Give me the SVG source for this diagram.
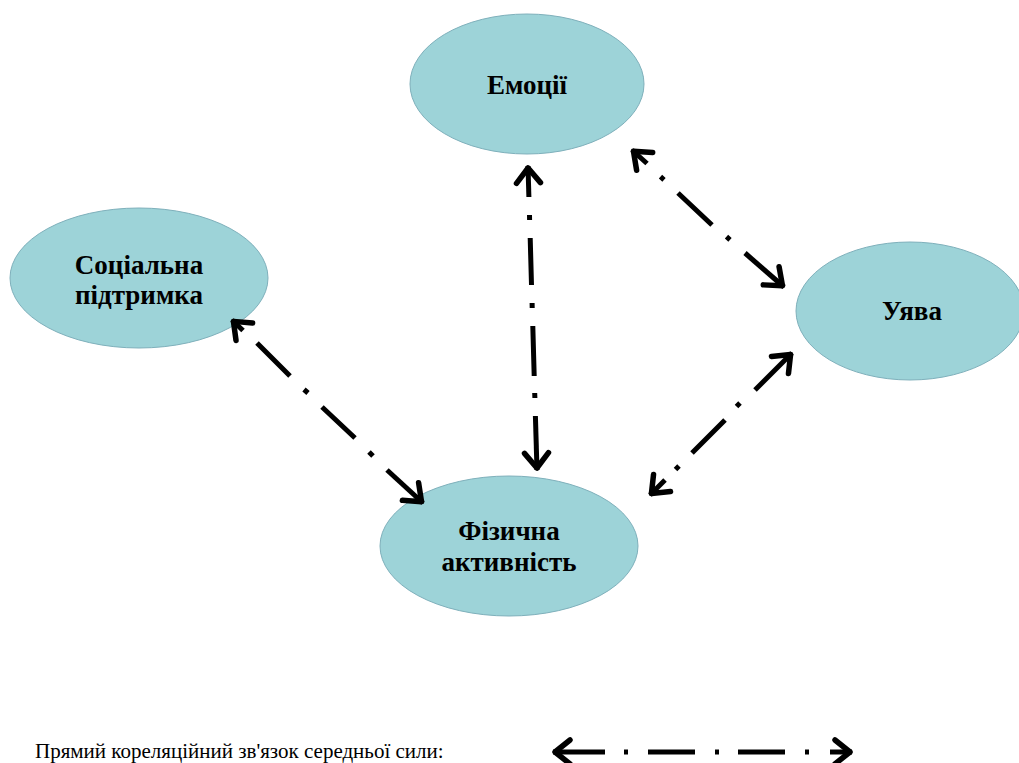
<svg xmlns="http://www.w3.org/2000/svg" width="1019" height="763" viewBox="0 0 1019 763">
<style>
.node ellipse{fill:#9dd3d8;stroke:#7fb0bb;stroke-width:1}
.node text{font-family:"Liberation Serif","Times New Roman",serif;font-weight:bold;font-size:27px;fill:#000;text-anchor:middle}
.c{stroke:#000;stroke-width:5;fill:none;stroke-linecap:butt}
.h{marker-end:url(#head)}
.legend{font-family:"Liberation Serif","Times New Roman",serif;font-size:21px;fill:#000}
</style>
<defs>
<marker id="head" markerUnits="userSpaceOnUse" viewBox="-22 -16 24 32" markerWidth="24" markerHeight="32" refX="0" refY="0" orient="auto" overflow="visible">
<path d="M -17 -12 L -2 0 L -17 12" fill="none" stroke="#000" stroke-width="5.5" stroke-linejoin="round" stroke-linecap="round"/>
</marker>
</defs>
<rect width="1019" height="763" fill="#fff"/>
<g id="node-emotions" class="node">
<ellipse cx="527" cy="84" rx="117" ry="70"/>
<text x="527" y="94">Емоції</text>
</g>
<g id="node-social" class="node">
<ellipse cx="139" cy="278" rx="129" ry="70"/>
<text x="139" y="274">Соціальна</text>
<text x="139" y="304">підтримка</text>
</g>
<g id="node-imagination" class="node">
<ellipse cx="910" cy="311" rx="114" ry="69"/>
<text x="912" y="320">Уява</text>
</g>
<g id="node-physical" class="node">
<ellipse cx="509" cy="546" rx="129" ry="70"/>
<text x="509" y="540">Фізична</text>
<text x="509" y="571">активність</text>
</g>
<g id="connectors">
<line class="c h" x1="528.9" y1="197" x2="528" y2="166"/>
<path class="c" d="M529.5 215 L529.6 220 M530.2 238 L531.5 285 M532.1 303 L532.2 308 M532.8 326 L534.2 376 M534.7 393 L534.9 398"/>
<line class="c h" x1="535.4" y1="416" x2="537" y2="470"/>

<line class="c h" x1="647" y1="163.5" x2="632" y2="150"/>
<path class="c" d="M660.5 176.7 L664 179.8 M678 193 L712 225 M726.5 236.7 L730 239.8"/>
<line class="c h" x1="745" y1="253" x2="784" y2="287"/>

<line class="c h" x1="755" y1="390" x2="792" y2="353"/>
<path class="c" d="M736.5 406.5 L740 403 M725 420 L692 453 M675.5 469.5 L679 466"/>
<line class="c h" x1="665" y1="480" x2="650" y2="495"/>

<line class="c h" x1="243" y1="330.5" x2="232" y2="320"/>
<path class="c" d="M257 343 L290 376 M304 389.5 L308 393 M322 407 L355 438 M369 452 L373 456"/>
<line class="c h" x1="387" y1="470" x2="423" y2="503"/>
</g>
<g id="legend">
<text class="legend" x="35" y="758">Прямий кореляційний зв'язок середньої сили:</text>
<line class="c h" x1="605" y1="752" x2="553" y2="752"/>
<path class="c" d="M624 752 L628 752 M648 752 L695 752 M715 752 L719 752 M738 752 L785 752 M805 752 L809 752"/>
<line class="c h" x1="830" y1="752" x2="852" y2="752"/>
</g>
</svg>
